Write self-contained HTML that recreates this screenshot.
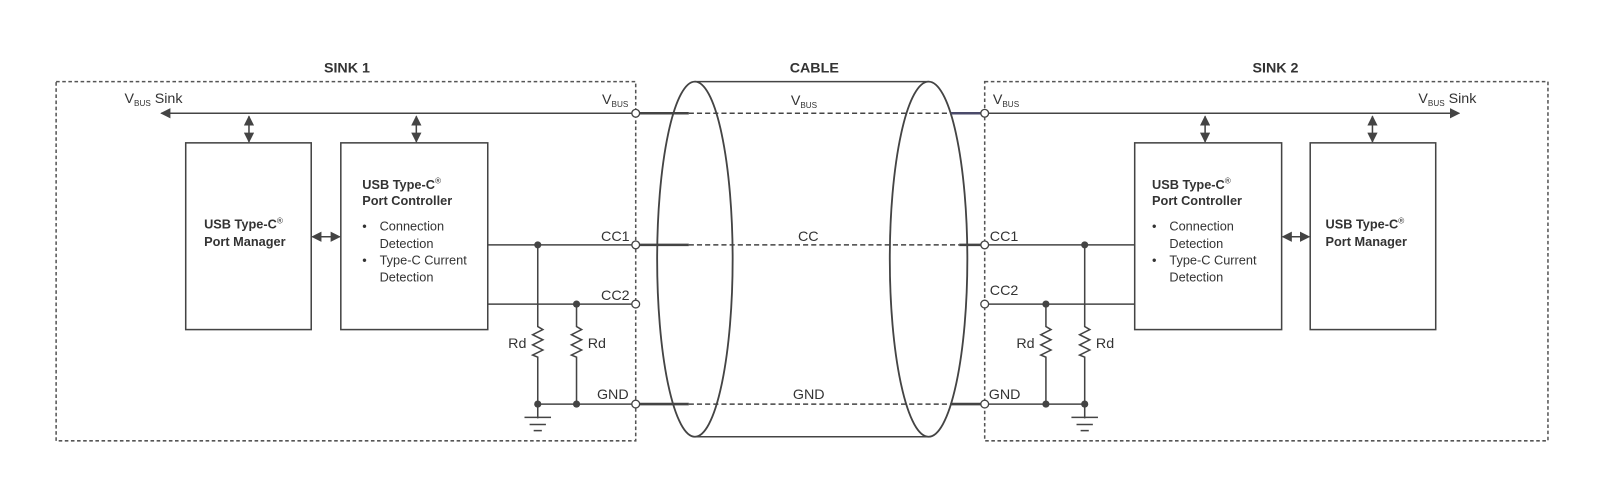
<!DOCTYPE html>
<html><head><meta charset="utf-8"><style>
html,body{margin:0;padding:0;background:#fff}
svg{display:block}
text{font-family:"Liberation Sans",sans-serif;fill:#333}
</style></head><body>
<svg width="1600" height="500" viewBox="0 0 1568 490" xmlns="http://www.w3.org/2000/svg">
<defs>
<marker id="ah" viewBox="0 0 10 10" refX="9" refY="5" markerWidth="10" markerHeight="10" markerUnits="userSpaceOnUse" orient="auto-start-reverse"><path d="M0,0 L10,5 L0,10 z" fill="#444"/></marker>
</defs>
<g fill="none" stroke="#444" stroke-width="1.5">
<rect x="55" y="80" width="568" height="352" stroke-dasharray="3.5,2.5" stroke="#555"/>
<rect x="965" y="80" width="552" height="352" stroke-dasharray="3.5,2.5" stroke="#555"/>
<line x1="681" y1="80" x2="910" y2="80"/>
<line x1="681" y1="428" x2="910" y2="428"/>
<ellipse cx="681" cy="254" rx="37" ry="174" stroke-width="1.8"/>
<ellipse cx="910" cy="254" rx="38" ry="174" stroke-width="1.8"/>
<g stroke-width="2.5">
<line x1="627" y1="111" x2="675" y2="111"/>
<line x1="627" y1="240" x2="675" y2="240"/>
<line x1="627" y1="396" x2="675" y2="396"/>
<line x1="932" y1="111" x2="961" y2="111" stroke="#4a4a6a"/>
<line x1="940" y1="240" x2="961" y2="240"/>
<line x1="932" y1="396" x2="961" y2="396"/>
</g>
<g stroke-dasharray="5,3">
<line x1="675" y1="111" x2="932" y2="111"/>
<line x1="675" y1="240" x2="940" y2="240"/>
<line x1="675" y1="396" x2="932" y2="396"/>
</g>
<line x1="619" y1="111" x2="158" y2="111" marker-end="url(#ah)"/>
<line x1="244" y1="114" x2="244" y2="139" marker-start="url(#ah)" marker-end="url(#ah)"/>
<line x1="408" y1="114" x2="408" y2="139" marker-start="url(#ah)" marker-end="url(#ah)"/>
<rect x="182" y="140" width="123" height="183"/>
<rect x="334" y="140" width="144" height="183"/>
<line x1="306" y1="232" x2="333" y2="232" marker-start="url(#ah)" marker-end="url(#ah)"/>
<line x1="478" y1="240" x2="619" y2="240"/>
<line x1="478" y1="298" x2="619" y2="298"/>
<line x1="527" y1="396" x2="619" y2="396"/>
<path d="M527,240 V320 l5,3 l-10,5 l10,5 l-10,5 l10,5 l-10,5 l5,2 V410"/>
<path d="M565,298 V320 l5,3 l-10,5 l10,5 l-10,5 l10,5 l-10,5 l5,2 V396"/>
<line x1="514" y1="409" x2="540" y2="409"/>
<line x1="519" y1="416" x2="535" y2="416"/>
<line x1="523" y1="422" x2="531" y2="422"/>
<line x1="969" y1="111" x2="1430" y2="111" marker-end="url(#ah)"/>
<line x1="1181" y1="114" x2="1181" y2="139" marker-start="url(#ah)" marker-end="url(#ah)"/>
<line x1="1345" y1="114" x2="1345" y2="139" marker-start="url(#ah)" marker-end="url(#ah)"/>
<rect x="1112" y="140" width="144" height="183"/>
<rect x="1284" y="140" width="123" height="183"/>
<line x1="1257" y1="232" x2="1283" y2="232" marker-start="url(#ah)" marker-end="url(#ah)"/>
<line x1="969" y1="240" x2="1112" y2="240"/>
<line x1="969" y1="298" x2="1112" y2="298"/>
<line x1="969" y1="396" x2="1063" y2="396"/>
<path d="M1063,240 V320 l5,3 l-10,5 l10,5 l-10,5 l10,5 l-10,5 l5,2 V410"/>
<path d="M1025,298 V320 l5,3 l-10,5 l10,5 l-10,5 l10,5 l-10,5 l5,2 V396"/>
<line x1="1050" y1="409" x2="1076" y2="409"/>
<line x1="1055" y1="416" x2="1071" y2="416"/>
<line x1="1059" y1="422" x2="1067" y2="422"/>
</g>
<g fill="#444">
<circle cx="527" cy="240" r="3.5"/><circle cx="565" cy="298" r="3.5"/>
<circle cx="527" cy="396" r="3.5"/><circle cx="565" cy="396" r="3.5"/>
<circle cx="1063" cy="240" r="3.5"/><circle cx="1025" cy="298" r="3.5"/>
<circle cx="1025" cy="396" r="3.5"/><circle cx="1063" cy="396" r="3.5"/>
</g>
<g fill="#fff" stroke="#444" stroke-width="1.3">
<circle cx="623" cy="111" r="3.8"/><circle cx="623" cy="240" r="3.8"/><circle cx="623" cy="298" r="3.8"/><circle cx="623" cy="396" r="3.8"/>
<circle cx="965" cy="111" r="3.8"/><circle cx="965" cy="240" r="3.8"/><circle cx="965" cy="298" r="3.8"/><circle cx="965" cy="396" r="3.8"/>
</g>
<g font-weight="bold" font-size="14" text-anchor="middle">
<text x="340" y="71">SINK 1</text>
<text x="798" y="71">CABLE</text>
<text x="1250" y="71">SINK 2</text>
</g>
<g font-size="14">
<text x="122" y="101">V<tspan font-size="8" dy="3">BUS</tspan><tspan dy="-3"> Sink</tspan></text>
<text x="590" y="102">V<tspan font-size="8" dy="3">BUS</tspan></text>
<text x="775" y="103">V<tspan font-size="8" dy="3">BUS</tspan></text>
<text x="973" y="102">V<tspan font-size="8" dy="3">BUS</tspan></text>
<text x="1390" y="101">V<tspan font-size="8" dy="3">BUS</tspan><tspan dy="-3"> Sink</tspan></text>
<text x="589" y="236">CC1</text><text x="589" y="294">CC2</text><text x="585" y="391">GND</text>
<text x="782" y="236">CC</text><text x="777" y="391">GND</text>
<text x="970" y="236">CC1</text><text x="970" y="289">CC2</text><text x="969" y="391">GND</text>
<text x="498" y="341">Rd</text><text x="576" y="341">Rd</text>
<text x="996" y="341">Rd</text><text x="1074" y="341">Rd</text>
</g>
<g font-size="12.5">
<text x="200" y="224" font-weight="bold">USB Type-C<tspan font-size="8" font-weight="normal" dy="-5">®</tspan></text>
<text x="200" y="241" font-weight="bold">Port Manager</text>
<text x="355" y="185" font-weight="bold">USB Type-C<tspan font-size="8" font-weight="normal" dy="-5">®</tspan></text>
<text x="355" y="201" font-weight="bold">Port Controller</text>
<text x="355" y="226">•</text><text x="372" y="226">Connection</text>
<text x="372" y="243">Detection</text>
<text x="355" y="259">•</text><text x="372" y="259">Type-C Current</text>
<text x="372" y="276">Detection</text>
<text x="1129" y="185" font-weight="bold">USB Type-C<tspan font-size="8" font-weight="normal" dy="-5">®</tspan></text>
<text x="1129" y="201" font-weight="bold">Port Controller</text>
<text x="1129" y="226">•</text><text x="1146" y="226">Connection</text>
<text x="1146" y="243">Detection</text>
<text x="1129" y="259">•</text><text x="1146" y="259">Type-C Current</text>
<text x="1146" y="276">Detection</text>
<text x="1299" y="224" font-weight="bold">USB Type-C<tspan font-size="8" font-weight="normal" dy="-5">®</tspan></text>
<text x="1299" y="241" font-weight="bold">Port Manager</text>
</g>
</svg>
</body></html>
